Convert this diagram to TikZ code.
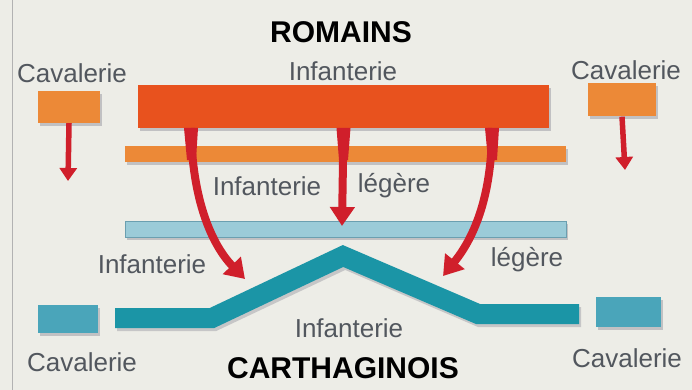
\documentclass[tikz,border=0pt]{standalone}
\usepackage{fontspec}
\setmainfont{Liberation Sans}
\usetikzlibrary{arrows.meta}
\definecolor{bg}{HTML}{EDEDE7}
\definecolor{romred}{HTML}{E8521E}
\definecolor{romorange}{HTML}{EC8937}
\definecolor{carlight}{HTML}{9BCBD8}
\definecolor{carlightedge}{HTML}{6B9FB0}
\definecolor{carteal}{HTML}{1B95A6}
\definecolor{carcav}{HTML}{4AA5BA}
\definecolor{arrowred}{HTML}{D01F2B}
\definecolor{labelgray}{HTML}{52575E}
\definecolor{shadow}{HTML}{8C8C98}
\tikzset{
  lbl/.style={text=labelgray, font=\fontsize{26}{28}\selectfont, inner sep=0pt},
  ttl/.style={text=black, font=\bfseries\fontsize{30}{32}\selectfont, inner sep=0pt},
  bar/.style={rectangle, inner sep=0pt, draw=none},
  shad/.style={preaction={fill=shadow, opacity=0.45, transform canvas={shift={(2pt,-3pt)}}}},
  bigarrow/.style={draw=arrowred, line width=8pt, -{Triangle[width=24pt,length=19pt]}},
  smallarrow/.style={draw=arrowred, line width=5.5pt, -{Triangle[width=17pt,length=13pt]}},
  taper/.style={fill=arrowred, draw=none}
}
\begin{document}
\begin{tikzpicture}[x=1pt,y=-1pt]
\fill[bg] (0,0) rectangle (692,390);
\useasboundingbox (0,0) rectangle (692,390);
\draw[gray!60, line width=1pt] (12,0) -- (12,390);

% titles
\node[ttl] (romains) at (341,32) {ROMAINS};
\node[ttl] (carth) at (343,368) {CARTHAGINOIS};

% Roman lines
\node[bar, shad, fill=romred, minimum width=411pt, minimum height=43pt] (rominf) at (343.5,106.5) {};
\node[bar, shad, fill=romorange, minimum width=441pt, minimum height=16pt] (romleg) at (345.5,154) {};
\node[bar, shad, fill=romorange, minimum width=62pt, minimum height=32pt] (romcavl) at (69,107) {};
\node[bar, shad, fill=romorange, minimum width=68pt, minimum height=33pt] (romcavr) at (622,100) {};

% Roman labels
\node[lbl] (lrominf) at (343,71) {Infanterie};
\node[lbl] (lromcavl) at (72,73) {Cavalerie};
\node[lbl] (lromcavr) at (626,70) {Cavalerie};
\node[lbl] (lromleg1) at (267,186) {Infanterie};
\node[lbl] (lromleg2) at (394,186) {légère};

% Carthaginian light infantry
\node[bar, shad, fill=carlight, draw=carlightedge, line width=1pt, minimum width=441pt, minimum height=16pt] (carleg) at (345.5,229) {};
\node[lbl] (lcarleg1) at (152,264) {Infanterie};
\node[lbl] (lcarleg2) at (527,260) {légère};

% Carthaginian infantry (bent line)
\coordinate (c1) at (115,318);
\coordinate (c2) at (212,318);
\coordinate (apex) at (343,256);
\coordinate (c4) at (478,314);
\coordinate (c5) at (579,314);
\draw[shadow, opacity=0.4, line width=20pt, line join=miter, transform canvas={shift={(2pt,-3pt)}}] (c1) -- (c2) -- (apex) -- (c4) -- (c5);
\draw[carteal, line width=20pt, line join=miter] (c1) -- (c2) -- (apex) -- (c4) -- (c5);
\node[lbl] (lcarinf) at (349,328) {Infanterie};

% Carthaginian cavalry
\node[bar, shad, fill=carcav, minimum width=60pt, minimum height=28pt] (carcavl) at (68,319) {};
\node[bar, shad, fill=carcav, minimum width=65pt, minimum height=30pt] (carcavr) at (628,312) {};
\node[lbl] (lcarcavl) at (82,362) {Cavalerie};
\node[lbl] (lcarcavr) at (627,358) {Cavalerie};

% small cavalry arrows
\coordinate (sl) at (68,181);
\coordinate (sr) at (625,170);
\draw[smallarrow] (romcavl.south) -- (sl);
\draw[smallarrow] (romcavr.south) -- (sr);

% big arrows
\coordinate (a1s) at (191,128);
\coordinate (a1e) at (245,279);
\coordinate (a3s) at (492,128);
\coordinate (a3e) at (443,276);
\coordinate (a2e) at (342,226);
\draw[bigarrow] (a1s) .. controls (192,200) and (212,245) .. (a1e);
\draw[bigarrow] (rominf.south) -- (a2e);
\draw[bigarrow] (a3s) .. controls (492,200) and (472,240) .. (a3e);
% thicker tapered starts of the arrows
\fill[taper] (184,128) -- (198,128) -- (196,160) -- (187,160) -- cycle;
\fill[taper] (336.5,128) -- (350.5,128) -- (348,160) -- (339,160) -- cycle;
\fill[taper] (485,128) -- (499,128) -- (497,160) -- (488,160) -- cycle;
\end{tikzpicture}
\end{document}
